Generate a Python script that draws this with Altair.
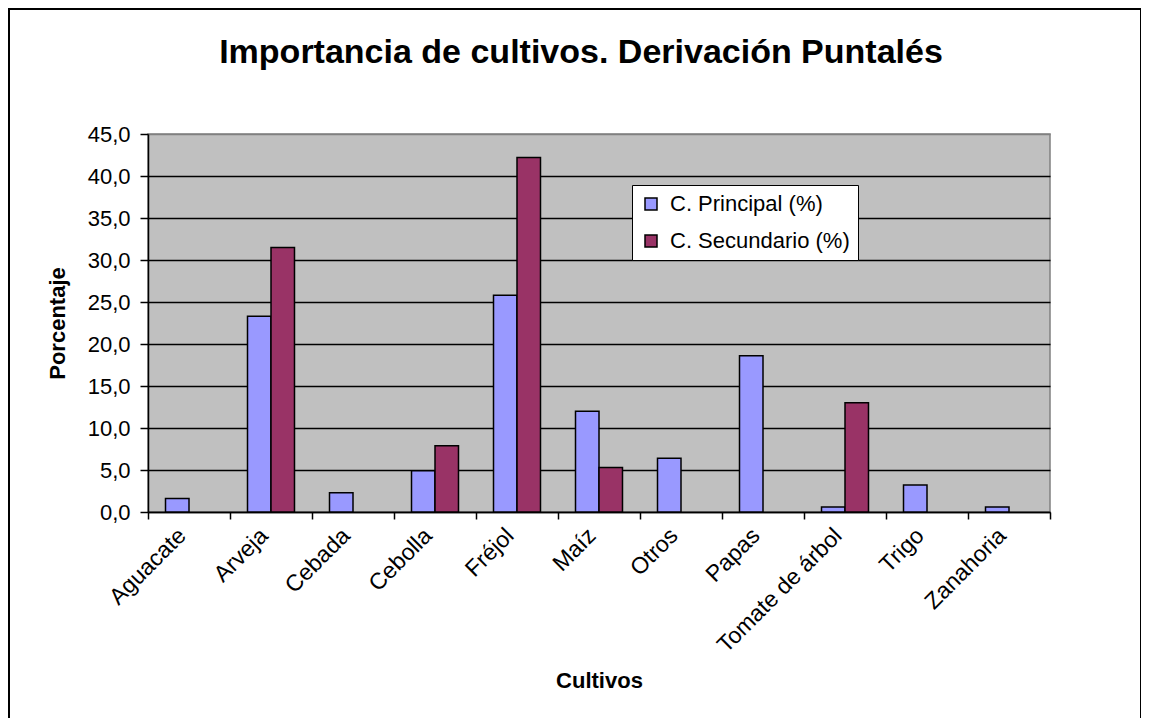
import altair as alt
import pandas as pd

cultivos = ["Aguacate", "Arveja", "Cebada", "Cebolla", "Fréjol", "Maíz", "Otros",
            "Papas", "Tomate de árbol", "Trigo", "Zanahoria"]
principal = [1.6, 23.3, 2.3, 4.9, 25.8, 12.0, 6.4, 18.6, 0.6, 3.2, 0.6]
secundario = [0.0, 31.5, 0.0, 7.9, 42.2, 5.3, 0.0, 0.0, 13.0, 0.0, 0.0]
series = ["C. Principal (%)", "C. Secundario (%)"]
colors = ["#9999FF", "#993366"]
y_ticks = [0, 5, 10, 15, 20, 25, 30, 35, 40, 45]
titulo = "Importancia de cultivos. Derivación Puntalés"

rows = []
for c, p, s in zip(cultivos, principal, secundario):
    rows.append({"cultivo": c, "serie": series[0], "valor": p})
    rows.append({"cultivo": c, "serie": series[1], "valor": s})
df = pd.DataFrame(rows)

FONT = "Liberation Sans, Arial, sans-serif"
W, H = 902, 378

bars = alt.Chart(df).transform_filter("datum.valor > 0").mark_bar(
    stroke="black", strokeWidth=1.5, opacity=1
).encode(
    x=alt.X("cultivo:N", sort=cultivos,
            scale=alt.Scale(paddingInner=0, paddingOuter=0),
            axis=alt.Axis(title="Cultivos", labelAngle=-45, labelAlign="right",
                          labelBaseline="top", labelOffset=-15, labelPadding=5,
                          labelFontSize=23, labelColor="black", labelFont=FONT,
                          labelLimit=400,
                          tickBand="extent", tickSize=7, tickColor="black", tickWidth=1.5,
                          domainColor="black", domainWidth=1.5, grid=False,
                          titleFont=FONT, titleFontSize=22, titleFontWeight="bold",
                          titleColor="black", titleX=W / 2, titleY=168,
                          titleBaseline="middle", titleAlign="center")),
    xOffset=alt.XOffset("serie:N", sort=series,
                        scale=alt.Scale(domain=series, paddingInner=0, paddingOuter=0.745)),
    y=alt.Y("valor:Q", scale=alt.Scale(domain=[0, 45], nice=False),
            axis=alt.Axis(title="Porcentaje", values=y_ticks,
                          labelExpr="replace(format(datum.value, '.1f'), '.', ',')",
                          labelFontSize=22, labelColor="black", labelFont=FONT,
                          labelPadding=10, tickSize=8, tickColor="black", tickWidth=1.5,
                          domainColor="black", domainWidth=1.5,
                          gridColor={"condition": {"test": "datum.value === 45", "value": "#808080"},
                                     "value": "black"},
                          gridWidth=1.3,
                          titleFont=FONT, titleFontSize=22, titleFontWeight="bold",
                          titleColor="black", titleX=-91, titleY=H / 2, titleAngle=-90,
                          titleBaseline="middle", titleAlign="center")),
    color=alt.Color("serie:N", sort=series,
                    scale=alt.Scale(domain=series, range=colors),
                    legend=alt.Legend(title=None, orient="none", legendX=484, legendY=51,
                                      fillColor="white", strokeColor="black",
                                      padding=8, symbolType="square", symbolSize=144,
                                      symbolStrokeColor="black", symbolStrokeWidth=1.5,
                                      symbolOpacity=1, labelFont=FONT, labelFontSize=22,
                                      labelLimit=400,
                                      labelColor="black", labelOffset=8, rowPadding=15)),
)

frame = alt.Chart(pd.DataFrame({"f": [0]})).mark_rect(
    fill=None, stroke="black", strokeWidth=2
).encode(
    x=alt.value(-139), x2=alt.value(993), y=alt.value(-125), y2=alt.value(720)
)

title = alt.Chart(pd.DataFrame({"t": [titulo]})).mark_text(
    font=FONT, fontSize=34, fontWeight="bold", color="black",
    align="center", baseline="alphabetic"
).encode(
    text="t:N", x=alt.value(W / 2 - 18), y=alt.value(-71)
)

chart = alt.layer(bars, frame, title).properties(
    width=W, height=H,
    padding={"left": 140, "top": 126, "right": 91, "bottom": 206},
    autosize=alt.AutoSizeParams(type="none"),
    background="white",
).configure_view(
    fill="#C0C0C0", stroke="#808080", strokeWidth=1.5
)

chart.save("out.html", embed_options={"renderer": "svg", "actions": False})
